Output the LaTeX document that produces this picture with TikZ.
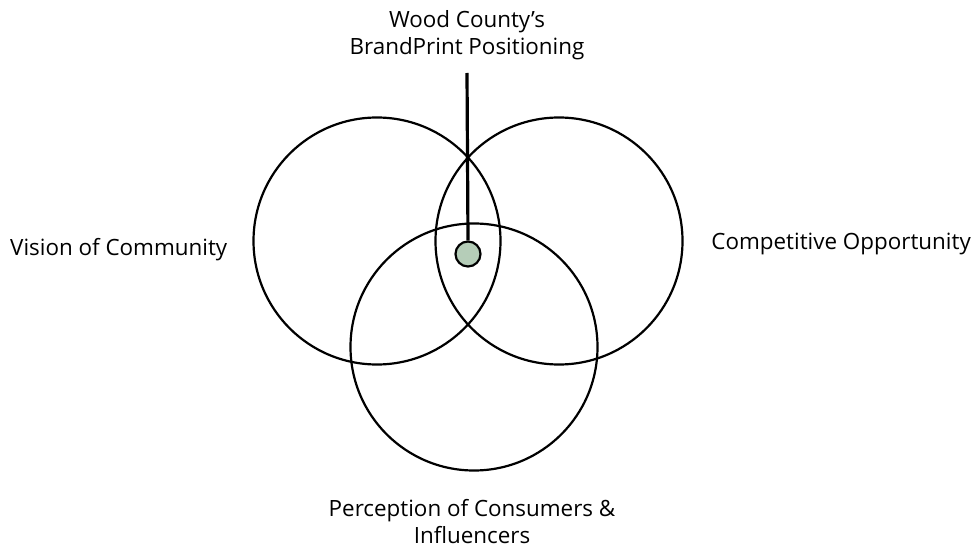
\documentclass[tikz,border=0pt]{standalone}
\usepackage{fontspec}
\setmainfont{Open Sans}
\begin{document}
\begin{tikzpicture}[x=1pt,y=-1pt,
  ring/.style={circle,draw=black,line width=2.2pt,minimum size=247pt,inner sep=0pt},
  hub/.style={circle,draw=black,line width=2.2pt,fill=sagegreen,minimum size=25pt,inner sep=0pt},
  lbl/.style={font=\fontsize{22.4}{27}\selectfont,align=center,inner sep=0pt}]
\definecolor{sagegreen}{HTML}{B5CDB8}
\useasboundingbox (0,0) rectangle (977,548);
% the three overlapping circles
\node[ring] (vision) at (377,241) {};
\node[ring] (compet) at (559,241) {};
\node[ring] (percep) at (474,347) {};
% the positioning marker and its leader line
\node[hub] (hub) at (468,254) {};
\coordinate (lead) at (467,73);
\draw[line width=3.2pt] (lead) -- (hub.north);
% labels (base anchor sits on the last line of a two-line label)
\node[lbl,anchor=base] (title) at (467,55) {Wood County’s\\BrandPrint Positioning};
\node[lbl,anchor=base west] (lv) at (10,255) {Vision of Community};
\node[lbl,anchor=base east] (lc) at (971,250) {Competitive Opportunity};
\node[lbl,anchor=base] (lp) at (472,543) {Perception of Consumers \&\\Influencers};
\end{tikzpicture}
\end{document}
